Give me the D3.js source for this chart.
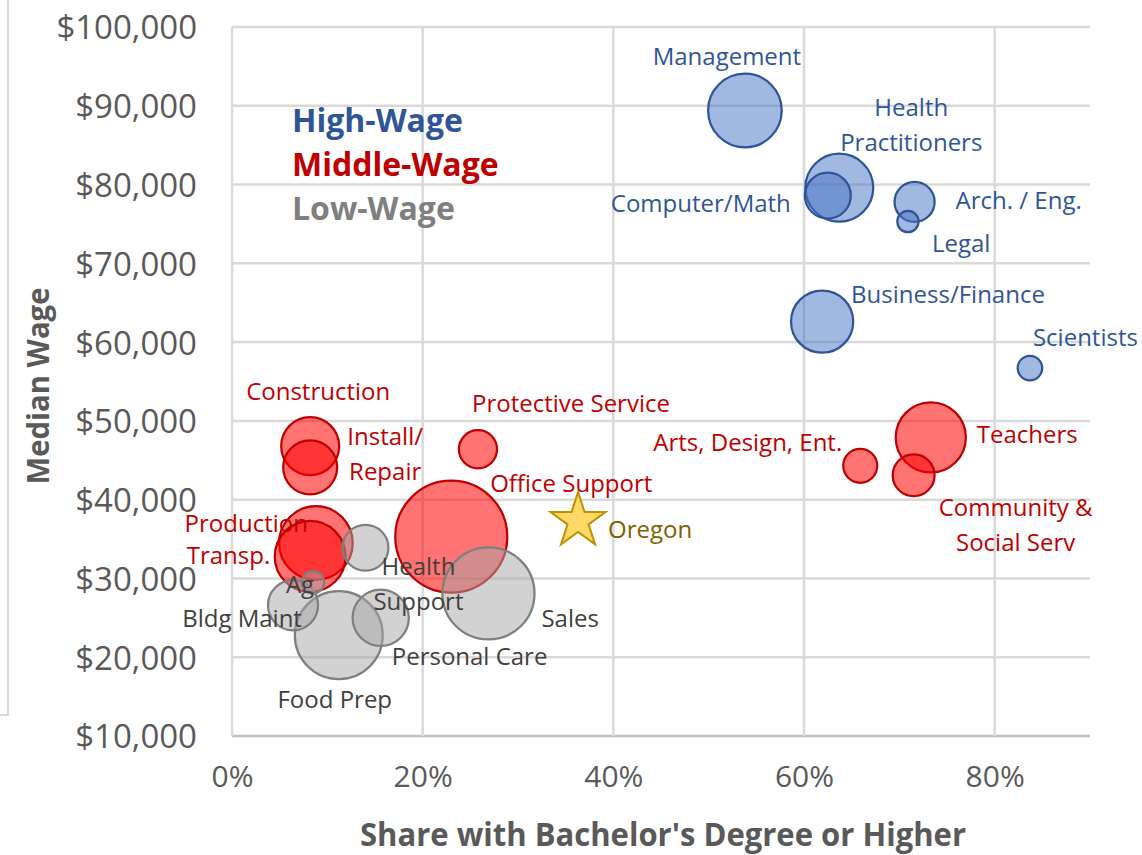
<!DOCTYPE html>
<html>
<head>
<meta charset="utf-8">
<script src="https://cdn.jsdelivr.net/npm/d3@7"></script>
<style>
  body { margin: 0; background: #fff; }
  svg { font-family: "Open Sans", "Noto Sans", sans-serif; }
</style>
</head>
<body>
<svg id="chart" width="1142" height="855"></svg>
<script>
// occupation data: share with BA+, median wage, employment (thousands)
var occupations = ["Management", "Health Practitioners", "Computer/Math", "Arch. / Eng.", "Legal",
  "Business/Finance", "Scientists",
  "Construction", "Install/Repair", "Protective Service", "Office Support", "Production", "Transp.",
  "Arts, Design, Ent.", "Teachers", "Community & Social Serv",
  "Health Support", "Ag", "Bldg Maint", "Food Prep", "Personal Care", "Sales"];
var bachShare = [0.538, 0.637, 0.625, 0.716, 0.709, 0.619, 0.837,
  0.082, 0.082, 0.258, 0.230, 0.088, 0.082, 0.659, 0.733, 0.715,
  0.140, 0.085, 0.064, 0.112, 0.156, 0.269];
var medianWage = [89400, 79600, 78600, 77800, 75300, 62600, 56700,
  46800, 44100, 46400, 35300, 34500, 32800, 44300, 47900, 43100,
  33900, 29500, 26600, 22800, 25000, 28100];
var employment = [108, 92, 42, 32, 9, 77, 12,
  67, 58, 29, 250, 108, 100, 23, 98, 35,
  42, 10, 50, 154, 63, 169];
var wageGroup = ["High", "High", "High", "High", "High", "High", "High",
  "Middle", "Middle", "Middle", "Middle", "Middle", "Middle", "Middle", "Middle", "Middle",
  "Low", "Low", "Low", "Low", "Low", "Low"];
var labelLines = [["Management"], ["Health", "Practitioners"], ["Computer/Math"], ["Arch. / Eng."], ["Legal"],
  ["Business/Finance"], ["Scientists"],
  ["Construction"], ["Install/", "Repair"], ["Protective Service"], ["Office Support"], ["Production"], ["Transp."],
  ["Arts, Design, Ent."], ["Teachers"], ["Community &", "Social Serv"],
  ["Health", "Support"], ["Ag"], ["Bldg Maint"], ["Food Prep"], ["Personal Care"], ["Sales"]];

var oregonShare = 0.363, oregonWage = 37300;

var groups = ["High", "Middle", "Low"];
var groupNames = ["High-Wage", "Middle-Wage", "Low-Wage"];
var xTicks = [0, 0.2, 0.4, 0.6, 0.8];
var yTicks = [10000, 20000, 30000, 40000, 50000, 60000, 70000, 80000, 90000, 100000];

// label placement relative to bubble centre (anchor, dx, dy of first line)
var labelPos = {
  "Management": ["middle", -18, -46],
  "Health Practitioners": ["middle", 72, -72],
  "Computer/Math": ["end", -37, 16],
  "Arch. / Eng.": ["start", 41, 7],
  "Legal": ["start", 24, 30],
  "Business/Finance": ["start", 29, -19],
  "Scientists": ["start", 3, -22],
  "Construction": ["middle", 8, -46],
  "Install/Repair": ["middle", 75, -22],
  "Protective Service": ["middle", 93, -37],
  "Office Support": ["middle", 120, -45],
  "Production": ["end", -8, -11],
  "Transp.": ["end", -40, 8],
  "Arts, Design, Ent.": ["end", -18, -15],
  "Teachers": ["start", 46, 6],
  "Community & Social Serv": ["middle", 102, 41],
  "Health Support": ["middle", 53, 27],
  "Ag": ["middle", -13, 11],
  "Bldg Maint": ["middle", -51, 22],
  "Food Prep": ["middle", -4, 73],
  "Personal Care": ["start", 11, 47],
  "Sales": ["start", 53, 34]
};

var fillColor = { High: "rgba(68,114,196,0.5)", Middle: "rgba(255,0,0,0.55)", Low: "rgba(166,166,166,0.5)" };
var strokeColor = { High: "#2f5597", Middle: "#c00000", Low: "#7f7f7f" };
var textColor = { High: "#2f5597", Middle: "#c00000", Low: "#404040" };

var margin = { top: 27, right: 52, bottom: 119, left: 232 },
    width = 1142 - margin.left - margin.right,
    height = 855 - margin.top - margin.bottom;

var svg = d3.select("#chart");

// stray border left over from the original slide
svg.append("path")
    .attr("d", "M8,0V715H0")
    .attr("fill", "none")
    .attr("stroke", "#d9d9d9")
    .attr("stroke-width", 2);

var g = svg.append("g").attr("transform", "translate(" + margin.left + "," + margin.top + ")");

var x = d3.scaleLinear().domain([0, 0.9]).range([0, width]),
    y = d3.scaleLinear().domain([10000, 100000]).range([height, 0]),
    r = d3.scaleSqrt().domain([0, 250]).range([0, 56]);

// gridlines
g.selectAll(".hgrid")
  .data(yTicks)
  .enter().append("line")
    .attr("x1", 0).attr("x2", width)
    .attr("y1", function(d) { return y(d); })
    .attr("y2", function(d) { return y(d); })
    .attr("stroke", function(d) { return d == 10000 ? "#bfbfbf" : "#d9d9d9"; })
    .attr("stroke-width", 2.5);

g.selectAll(".vgrid")
  .data(xTicks)
  .enter().append("line")
    .attr("x1", function(d) { return x(d); })
    .attr("x2", function(d) { return x(d); })
    .attr("y1", 0).attr("y2", height)
    .attr("stroke", "#d9d9d9")
    .attr("stroke-width", 2.5);

// axes (text only, lines are the gridlines)
var fmtWage = d3.format("$,");
var yAxis = g.append("g")
    .call(d3.axisLeft(y).tickValues(yTicks).tickFormat(fmtWage).tickSize(0).tickPadding(35));
var xAxis = g.append("g")
    .attr("transform", "translate(0," + height + ")")
    .call(d3.axisBottom(x).tickValues(xTicks).tickFormat(d3.format(".0%")).tickSize(0).tickPadding(30));
[yAxis, xAxis].forEach(function(a) {
  a.select(".domain").remove();
  a.selectAll("text")
    .attr("fill", "#595959")
    .style("font-family", "'Open Sans', sans-serif");
});
yAxis.selectAll("text").style("font-size", "33px").attr("dy", "0.36em");
xAxis.selectAll("text").style("font-size", "30px").attr("dy", "0.71em");

// axis titles
svg.append("text")
    .attr("transform", "translate(49,386) rotate(-90)")
    .attr("text-anchor", "middle")
    .attr("fill", "#595959")
    .style("font-size", "31px")
    .style("font-weight", "bold")
    .attr("textLength", 197)
    .attr("lengthAdjust", "spacingAndGlyphs")
    .text("Median Wage");

svg.append("text")
    .attr("x", 663).attr("y", 846)
    .attr("text-anchor", "middle")
    .attr("fill", "#595959")
    .style("font-size", "32px")
    .style("font-weight", "bold")
    .attr("textLength", 606)
    .attr("lengthAdjust", "spacingAndGlyphs")
    .text("Share with Bachelor's Degree or Higher");

// legend
svg.selectAll(".legend")
  .data(groups)
  .enter().append("text")
    .attr("x", 292)
    .attr("y", function(d, i) { return 132 + i * 44; })
    .attr("fill", function(d) { return d == "Low" ? "#7f7f7f" : strokeColor[d]; })
    .style("font-size", "32px")
    .style("font-weight", "bold")
    .text(function(d, i) { return groupNames[i]; });

// bubbles
var rows = occupations.map(function(name, i) {
  return { name: name, share: bachShare[i], wage: medianWage[i], emp: employment[i],
           group: wageGroup[i], lines: labelLines[i] };
});
rows.sort(function(a, b) {
  var ga = groups.indexOf(a.group), gb = groups.indexOf(b.group);
  return ga != gb ? ga - gb : b.emp - a.emp;
});

g.selectAll(".bubble")
  .data(rows)
  .enter().append("circle")
    .attr("class", "bubble")
    .attr("cx", function(d) { return x(d.share); })
    .attr("cy", function(d) { return y(d.wage); })
    .attr("r", function(d) { return r(d.emp); })
    .attr("fill", function(d) { return fillColor[d.group]; })
    .attr("stroke", function(d) { return strokeColor[d.group]; })
    .attr("stroke-width", 2.25);

// Oregon star
g.append("path")
    .attr("d", d3.symbol().type(d3.symbolStar).size(940)())
    .attr("transform", "translate(" + x(oregonShare) + "," + y(oregonWage) + ")")
    .attr("fill", "#ffd966")
    .attr("stroke", "#bf9000")
    .attr("stroke-width", 2);

g.append("text")
    .attr("x", x(oregonShare) + 30)
    .attr("y", y(oregonWage) + 17)
    .attr("fill", "#7f6000")
    .style("font-size", "24px")
    .text("Oregon");

// labels
var labels = g.selectAll(".label")
  .data(rows)
  .enter().append("text")
    .attr("class", "label")
    .attr("text-anchor", function(d) { return labelPos[d.name][0]; })
    .attr("fill", function(d) { return textColor[d.group]; })
    .style("font-size", "24px");

labels.selectAll("tspan")
  .data(function(d) {
    var p = labelPos[d.name];
    return d.lines.map(function(t, i) {
      return { t: t, x: x(d.share) + p[1], y: y(d.wage) + p[2] + i * 35 };
    });
  })
  .enter().append("tspan")
    .attr("x", function(d) { return d.x; })
    .attr("y", function(d) { return d.y; })
    .text(function(d) { return d.t; });
</script>
</body>
</html>
